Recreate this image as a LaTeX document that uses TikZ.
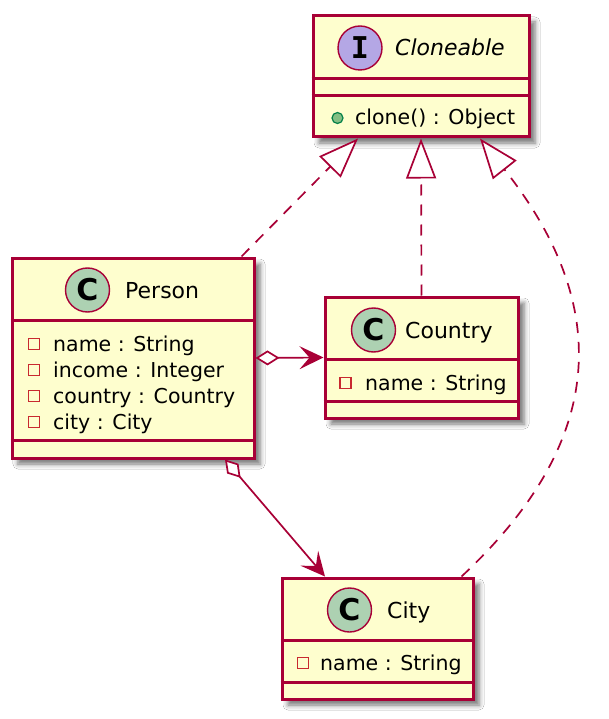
\documentclass[tikz,border=0pt]{standalone}
\usepackage{fontspec}
\setmainfont{DejaVu Sans}
\newfontfamily\monob{DejaVu Sans Mono}
\usetikzlibrary{arrows.meta,shadows.blur,calc}
\definecolor{bord}{HTML}{A80036}
\definecolor{boxfill}{HTML}{FEFECE}
\definecolor{spotC}{HTML}{ADD1B2}
\definecolor{spotI}{HTML}{B4A7E5}
\definecolor{privc}{HTML}{C82930}
\definecolor{pubfill}{HTML}{84BE84}
\definecolor{pubbord}{HTML}{038048}
\tikzset{
  classbox/.style={draw=bord, fill=boxfill, line width=3pt, inner sep=0pt,
    blur shadow={shadow xshift=6pt, shadow yshift=-6pt, shadow blur radius=5pt, shadow opacity=55}},
  divider/.style={draw=bord, line width=3pt},
  spot/.style={circle, draw=bord, line width=1.4pt, minimum size=44pt, inner sep=0pt},
  headtext/.style={anchor=base west, inner sep=0pt, font=\fontsize{22}{26}\selectfont},
  rowtext/.style={anchor=base west, inner sep=0pt, font=\fontsize{20.5}{26}\selectfont},
  priv/.style={draw=privc, line width=1.4pt, minimum size=11pt, inner sep=0pt},
  pub/.style={circle, draw=pubbord, fill=pubfill, line width=1.2pt, minimum size=11pt, inner sep=0pt},
  realz/.style={draw=bord, line width=1.7pt, dash pattern=on 11pt off 9pt,
    -{Triangle[length=40pt,width=30pt,fill=white,line width=1.7pt]}},
  aggr/.style={draw=bord, line width=1.7pt,
    {Diamond[length=24pt,width=15pt,fill=white]}-{Stealth[length=24pt,width=23pt,inset=10pt]}},
}
\begin{document}
\begin{tikzpicture}[x=1pt,y=-1pt]
\fill[white] (0,0) rectangle (608,719);
\useasboundingbox (0,0) rectangle (608,719);

% Cloneable
\node[classbox, minimum width=216pt, minimum height=121pt] (clo) at (421,76.5) {};
\draw[divider] ([yshift=-64pt]clo.north west) -- ([yshift=-64pt]clo.north east);
\draw[divider] ([yshift=-81pt]clo.north west) -- ([yshift=-81pt]clo.north east);
\node[spot, fill=spotI, font=\monob\bfseries\fontsize{30}{30}\selectfont] (cloI) at (360,48) {I};
\node[headtext, font=\itshape\fontsize{22}{26}\selectfont] (cloname) at (395,56) {Cloneable};
\node[pub] (cloicon) at (337.5,118) {};
\node[rowtext] (clom) at (355,125) {clone() : Object};

% Person
\node[classbox, minimum width=242pt, minimum height=200pt] (person) at (133,358) {};
\draw[divider] ([yshift=-64pt]person.north west) -- ([yshift=-64pt]person.north east);
\draw[divider] ([yshift=-184pt]person.north west) -- ([yshift=-184pt]person.north east);
\node[spot, fill=spotC, font=\bfseries\fontsize{30}{30}\selectfont] (personC) at (87.5,290) {C};
\node[headtext] (personname) at (125,298) {Person};
\node[priv] (pi1) at (34,344) {};
\node[priv] (pi2) at (34,370) {};
\node[priv] (pi3) at (34,396) {};
\node[priv] (pi4) at (34,422) {};
\node[rowtext] (pa1) at (53,351) {name : String};
\node[rowtext] (pa2) at (53,377) {income : Integer};
\node[rowtext] (pa3) at (53,403) {country : Country};
\node[rowtext] (pa4) at (53,429) {city : City};

% Country
\node[classbox, minimum width=193pt, minimum height=121pt] (country) at (421.5,357.5) {};
\draw[divider] ([yshift=-64pt]country.north west) -- ([yshift=-64pt]country.north east);
\draw[divider] ([yshift=-106pt]country.north west) -- ([yshift=-106pt]country.north east);
\node[spot, fill=spotC, font=\bfseries\fontsize{30}{30}\selectfont] (countryC) at (373.5,330) {C};
\node[headtext] (countryname) at (405,338) {Country};
\node[priv] (ci1) at (345.5,383) {};
\node[rowtext] (ca1) at (365,390) {name : String};

% City
\node[classbox, minimum width=191pt, minimum height=121pt] (city) at (377.5,638.5) {};
\draw[divider] ([yshift=-64pt]city.north west) -- ([yshift=-64pt]city.north east);
\draw[divider] ([yshift=-106pt]city.north west) -- ([yshift=-106pt]city.north east);
\node[spot, fill=spotC, font=\bfseries\fontsize{30}{30}\selectfont] (cityC) at (349.5,610) {C};
\node[headtext] (cityname) at (387,618) {City};
\node[priv] (ti1) at (303,663) {};
\node[rowtext] (ta1) at (320,670) {name : String};

% connectors
\draw[realz] ([xshift=-14pt]person.north east) -- ([xshift=-63pt]clo.south);
\draw[realz] (country.north) -- (clo.south);
\draw[realz] ([xshift=-13pt]city.north east) .. controls (612.8,435.5) and (607.5,300.1) .. ([xshift=59pt]clo.south);
\draw[aggr] (person.east) -- (country.west);
\draw[aggr] ([xshift=92pt]person.south) -- ([xshift=-52.5pt]city.north);
\end{tikzpicture}
\end{document}
